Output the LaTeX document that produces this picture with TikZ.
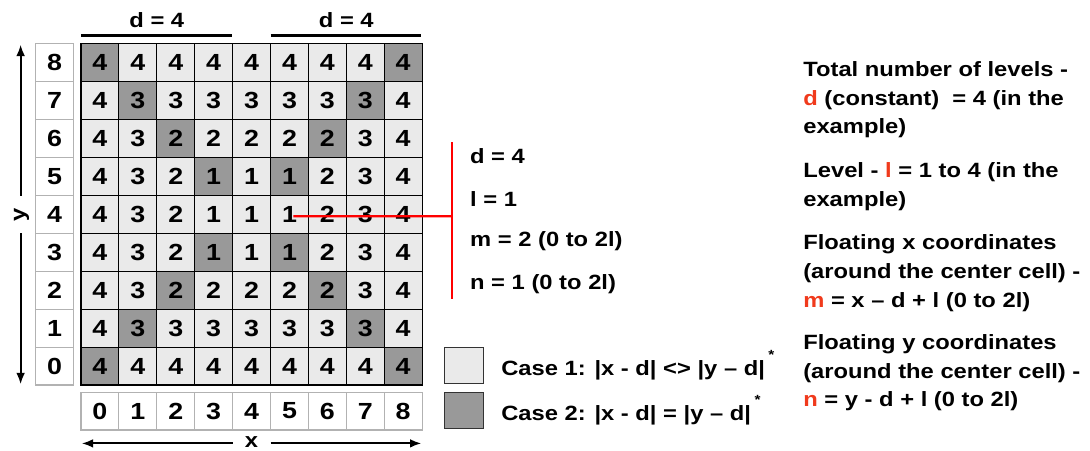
\documentclass[tikz,border=0pt]{standalone}
\usepackage{fontspec}
\setmainfont{Liberation Sans}[FakeStretch=1.15]
\usepackage{tikz}
\usetikzlibrary{positioning,calc,arrows.meta}
\definecolor{lightcell}{RGB}{234,234,234}
\definecolor{darkcell}{RGB}{153,153,153}
\definecolor{idxline}{RGB}{178,178,178}
\definecolor{accent}{RGB}{240,58,28}

\begin{document}
\begin{tikzpicture}[x=1cm,y=1cm,
   cell/.style={draw,line width=0.8pt,minimum size=1cm,inner sep=0pt,font=\fontsize{17.5}{20}\selectfont\bfseries},
   idx/.style={draw=idxline,line width=0.8pt,fill=white,minimum size=1cm,inner sep=0pt,font=\fontsize{17.5}{20}\selectfont\bfseries},
   lbl/.style={inner sep=0pt,font=\fontsize{15.5}{21.5}\selectfont\bfseries},
   note/.style={lbl,anchor=west,align=left},
   keybox/.style={draw=black!80,line width=0.9pt,minimum width=1.03cm,minimum height=0.95cm,inner sep=0pt},
   bar/.style={line width=2.3pt},
   ax/.style={line width=1.5pt,-{Latex[length=3mm,width=2.3mm]}},
   tap/.style={red,line width=1.7pt}]
\useasboundingbox (-2.137,-1.715) rectangle (26.62,10.158);

%% ---- level grid (x = i, y = j) ----
\foreach \i in {0,...,8}{
  \foreach \j in {0,...,8}{
    \pgfmathtruncatemacro{\dx}{abs(\i-4)}
    \pgfmathtruncatemacro{\dy}{abs(\j-4)}
    \pgfmathtruncatemacro{\lv}{max(\dx,\dy,1)}
    \pgfmathtruncatemacro{\diag}{(\dx==\dy)&&(\dx>0)}
    \ifnum\diag=1 \def\cfill{darkcell}\else\def\cfill{lightcell}\fi
    \node[cell,fill=\cfill] (c-\i-\j) at (\i+0.5,\j+0.5) {\lv};
  }
}

%% ---- index column / row ----
\foreach \j in {0,...,8}
  \node[idx] (y-\j) at (-0.7,\j+0.5) {\j};
\foreach \i in {0,...,8}
  \node[idx] (x-\i) at (\i+0.5,-0.686) {\i};

%% ---- d = 4 brackets on top ----
\node[lbl] (dl) at (2,9.62) {d = 4};
\node[lbl] (dr) at (7,9.62) {d = 4};
\draw[bar] (0,9.21) -- (3.99,9.21);
\draw[bar] (5.0,9.21) -- (8.97,9.21);

%% ---- axes ----
\node[lbl,rotate=90] (ylab) at (-1.565,4.5) {y};
\coordinate (ylo) at (-1.593,4.0);
\coordinate (yhi) at (-1.593,5.0);
\coordinate (ybot) at (-1.593,0.02);
\coordinate (ytop) at (-1.593,8.98);
\draw[ax] (yhi) -- (ytop);
\draw[ax] (ylo) -- (ybot);
\node[lbl] (xlab) at (4.5,-1.5) {x};
\coordinate (xlo) at (4.0,-1.54);
\coordinate (xhi) at (5.0,-1.54);
\coordinate (xleft) at (0.02,-1.54);
\coordinate (xright) at (8.98,-1.54);
\draw[ax] (xlo) -- (xleft);
\draw[ax] (xhi) -- (xright);

%% ---- example cell (x=5, y=4) ----
\coordinate (tap0) at ($(c-5-4.center)+(0.1,-0.05)$);
\coordinate (brk) at (9.79,4.45);
\coordinate (rtop) at (9.79,6.41);
\coordinate (rbot) at (9.79,2.27);
\draw[tap] (tap0) -- (brk);
\draw[tap] (rtop) -- (rbot);
\node[note] (nd) at (10.26,6.03) {d = 4};
\node[note] (nl) at (10.26,4.91) {l = 1};
\node[note] (nm) at (10.26,3.79) {m = 2 (0 to 2l)};
\node[note] (nn) at (10.26,2.66) {n = 1 (0 to 2l)};

%% ---- legend ----
\node[keybox,fill=lightcell] (key1) at (10.1,0.52) {};
\node[keybox,fill=darkcell] (key2) at (10.1,-0.67) {};
\node[lbl,right=0.45cm of key1] (case1) {Case 1: |x - d| <> |y – d|\,\raisebox{0.8em}{\fontsize{10}{10}\selectfont *}};
\node[lbl,right=0.45cm of key2] (case2) {Case 2: |x - d| = |y – d|\,\raisebox{0.8em}{\fontsize{10}{10}\selectfont *}};

%% ---- definitions ----
\node[note] (p1) at (19.05,7.52) {Total number of levels -\\
  {\color{accent}d} (constant)~ = 4 (in the\\ example)};
\node[note] (p2) at (19.05,5.23) {Level - {\color{accent}l} = 1 to 4 (in the\\ example)};
\node[note] (p3) at (19.05,2.955) {Floating x coordinates\\
  (around the center cell) -\\ {\color{accent}m} = x – d + l (0 to 2l)};
\node[note] (p4) at (19.05,0.317) {Floating y coordinates\\
  (around the center cell) -\\ {\color{accent}n} = y - d + l (0 to 2l)};
\end{tikzpicture}
\end{document}
